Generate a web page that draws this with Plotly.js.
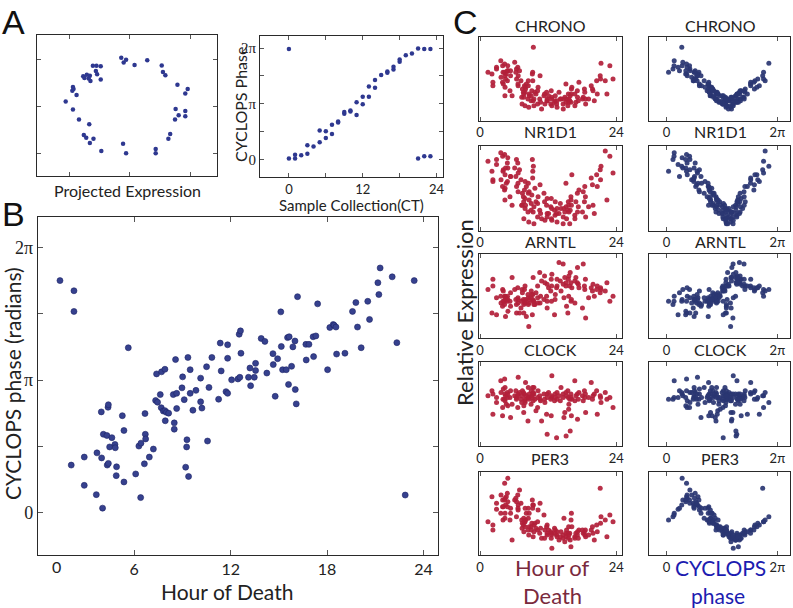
<!DOCTYPE html>
<html>
<head>
<meta charset="utf-8">
<script src="https://cdn.plot.ly/plotly-3.0.1.min.js"></script>
<style>
  body { margin: 0; background: #fff; }
  #plot { width: 793px; height: 608px; }
</style>
</head>
<body>
<div id="plot"></div>
<script>
// Panel A (left): projection of expression onto two eigengenes
var projX = [-0.14,-0.10,-0.06,0.08,0.29,0.53,0.55,0.59,0.79,0.96,
  0.92,0.76,0.81,0.92,0.92,0.75,0.67,0.64,0.43,0.43,
  -0.11,-0.06,-0.47,-0.66,-0.60,-0.72,-0.76,-0.67,-0.84,-0.94,
  -1.06,-0.88,-0.94,-0.93,-0.95,-0.77,-0.75,-0.71,-0.66,-0.68,
  -0.65,-0.61,-0.55,-0.48,-0.56,-0.54,-0.48];
var projY = [1.04,0.94,1.00,0.89,0.99,0.88,0.74,0.67,0.47,0.38,
  0.28,-0.05,-0.18,-0.09,-0.20,-0.27,-0.58,-0.68,-0.90,-0.99,
  -0.79,-0.99,-0.94,-0.77,-0.68,-0.66,-0.60,-0.37,-0.27,-0.06,
  0.11,0.25,0.42,0.38,0.34,0.65,0.61,0.68,0.66,0.60,
  0.55,0.87,0.87,0.86,0.76,0.69,0.58];

// Panel A (right): sample collection time vs CYCLOPS phase
var ctHour = [0,0,1,1,2,3,3,4,5,5,6,6,7,7,8,8,9,9,10,10,11,11,12,12,13,13,14,14,15,16,16,17,17,18,18,19,20,21,21,22,22,23,23];
var ctPhase = [6.23,0.04,0.04,0.26,0.23,0.32,0.79,0.73,0.96,1.63,1.20,1.58,1.43,1.95,2.08,2.14,2.57,2.67,2.70,2.76,2.51,3.23,3.12,3.54,3.54,4.11,4.05,4.48,4.76,4.89,4.97,5.08,5.23,5.51,5.65,5.89,5.98,6.27,0.04,6.24,0.17,6.24,0.17];

// Panel B / C: human samples, hour of death and CYCLOPS phase
var deathHour = [1.38,2.25,2.25,5.63,2.08,2.89,2.89,3.64,4.03,3.68,
  3.97,3.95,4.08,4.30,4.37,4.39,4.47,4.61,4.32,4.39,
  4.80,4.82,4.90,4.88,5.36,5.26,5.36,6.09,6.40,6.29,
  6.42,6.63,6.69,6.71,6.94,7.19,6.67,7.33,7.45,7.39,
  7.70,7.91,7.62,7.68,7.81,7.91,8.00,8.14,7.93,8.49,
  8.49,8.43,8.64,8.64,8.57,9.01,8.97,9.11,9.34,9.48,
  9.48,9.65,9.84,10.13,10.13,10.21,10.50,10.65,10.83,9.28,
  9.26,9.20,9.38,10.56,11.25,11.35,11.81,11.81,11.41,11.71,
  11.81,12.06,12.45,12.57,12.53,12.61,12.64,13.11,13.20,13.24,
  13.47,13.55,13.55,13.90,14.13,14.25,14.63,14.65,14.77,14.92,
  15.12,15.15,15.23,15.46,15.54,15.64,15.60,15.79,15.87,16.00,
  16.02,16.08,16.16,16.68,16.87,16.70,17.13,17.16,17.30,17.41,
  18.03,18.17,18.38,18.44,18.55,18.59,19.11,19.58,19.79,19.89,
  20.12,20.53,20.64,21.16,21.22,21.30,22.05,22.34,22.86,23.42];
var cyclopsPhase = [5.50,5.26,4.77,3.91,1.13,1.32,0.65,0.43,0.11,1.42,
  1.30,2.39,1.86,1.83,2.50,2.56,1.56,1.78,1.13,1.17,
  1.62,1.54,1.09,0.88,0.73,2.30,1.95,0.92,0.36,1.58,
  1.65,1.16,1.86,1.75,1.32,1.51,2.35,2.66,2.62,3.29,
  3.34,3.40,2.80,2.49,2.41,2.42,2.38,2.36,2.18,2.13,
  1.98,2.80,2.83,2.47,3.63,3.22,2.96,2.68,3.68,3.39,
  2.83,2.43,2.90,3.19,2.63,2.48,3.46,2.97,3.68,1.73,
  1.56,1.08,0.86,1.70,2.69,4.02,3.98,3.66,3.36,2.87,
  2.83,3.15,3.17,3.21,4.23,4.31,3.78,3.21,3.43,3.01,
  3.21,3.37,3.54,4.13,4.06,3.31,3.77,3.51,2.76,3.65,
  4.76,3.94,3.39,3.39,4.15,4.17,3.04,3.47,3.93,4.07,
  2.92,2.58,5.12,3.99,3.99,3.62,4.17,3.70,4.19,4.95,
  3.39,4.39,4.46,4.44,4.40,3.76,3.78,4.77,4.98,4.40,
  3.91,5.01,4.58,5.45,5.17,5.80,5.59,4.03,0.42,5.50];

// Panel C: relative expression per gene (same sample order)
var geneNames = ['CHRONO', 'NR1D1', 'ARNTL', 'CLOCK', 'PER3'];
var chrono = [.58,.42,.46,.30,.56,.62,.64,.72,.58,.52,
  .66,.46,.44,.58,.30,.40,.50,.56,.68,.54,
  .60,.48,.60,.66,.60,.36,.54,.70,.62,.58,
  .50,.64,.42,.54,.60,.48,.44,.28,.38,.20,
  .28,.18,.34,.32,.42,.34,.38,.44,.40,.48,
  .42,.26,.32,.30,.16,.30,.24,.36,.24,.18,
  .26,.34,.32,.20,.36,.40,.26,.22,.14,.48,
  .58,.56,.88,.54,.30,.32,.24,.26,.20,.34,
  .24,.30,.20,.26,.36,.28,.18,.22,.24,.30,
  .20,.16,.24,.34,.26,.26,.20,.14,.26,.28,
  .44,.22,.26,.18,.32,.26,.22,.24,.30,.22,
  .32,.38,.40,.32,.22,.18,.36,.28,.24,.46,
  .26,.28,.38,.34,.26,.20,.26,.42,.38,.36,
  .24,.48,.32,.54,.50,.69,.48,.32,.66,.50];
var nr1d1 = [.82,.58,.60,.30,.70,.84,.78,.92,.70,.60,
  .88,.52,.72,.48,.36,.50,.74,.56,.90,.66,
  .80,.58,.74,.86,.64,.40,.64,.74,.84,.64,
  .52,.80,.46,.68,.72,.60,.56,.30,.44,.30,
  .14,.26,.40,.34,.48,.38,.30,.52,.58,.44,
  .56,.22,.36,.46,.10,.32,.24,.42,.22,.08,
  .28,.50,.34,.16,.32,.40,.24,.20,.14,.70,
  .62,.84,.76,.54,.44,.34,.16,.20,.12,.30,
  .38,.20,.28,.14,.38,.26,.12,.24,.18,.34,
  .20,.10,.26,.20,.32,.26,.08,.16,.26,.22,
  .56,.28,.14,.24,.34,.22,.30,.08,.24,.40,
  .36,.30,.66,.18,.34,.14,.44,.22,.28,.48,
  .22,.46,.34,.52,.40,.16,.28,.62,.54,.30,
  .20,.66,.52,.72,.60,.76,.94,.36,.88,.68];
var arntl = [.58,.62,.70,.72,.30,.48,.28,.50,.44,.42,
  .58,.38,.56,.40,.50,.46,.26,.48,.44,.50,
  .44,.50,.32,.46,.54,.44,.38,.58,.40,.46,
  .30,.60,.42,.46,.30,.36,.48,.44,.54,.58,
  .30,.62,.46,.40,.58,.42,.46,.26,.44,.48,
  .40,.52,.42,.46,.14,.56,.48,.52,.72,.40,
  .44,.40,.54,.62,.48,.42,.78,.50,.68,.52,
  .46,.28,.44,.42,.46,.74,.64,.36,.66,.50,
  .44,.60,.56,.44,.70,.62,.76,.28,.46,.52,
  .60,.70,.62,.90,.68,.56,.88,.64,.48,.72,
  .62,.66,.38,.30,.70,.74,.50,.62,.78,.66,
  .44,.46,.60,.68,.72,.42,.66,.84,.64,.60,
  .36,.88,.62,.58,.70,.24,.48,.60,.56,.64,
  .50,.58,.62,.54,.60,.58,.56,.66,.44,.50];
var clock = [.60,.38,.62,.50,.66,.52,.58,.78,.56,.64,
  .46,.36,.68,.56,.62,.70,.60,.50,.80,.54,
  .64,.58,.48,.62,.66,.58,.34,.60,.56,.66,
  .58,.46,.62,.82,.64,.56,.60,.52,.66,.60,
  .48,.56,.64,.40,.62,.54,.76,.60,.52,.70,
  .58,.30,.62,.56,.58,.66,.50,.60,.54,.62,
  .70,.56,.42,.46,.58,.66,.60,.54,.30,.62,
  .70,.58,.64,.56,.62,.56,.14,.62,.52,.38,
  .58,.64,.56,.60,.36,.58,.84,.54,.62,.58,
  .10,.56,.64,.60,.54,.70,.62,.58,.34,.40,
  .64,.12,.60,.66,.58,.50,.44,.56,.18,.62,
  .58,.36,.56,.78,.60,.54,.62,.32,.56,.64,
  .60,.54,.66,.58,.62,.40,.58,.76,.56,.60,
  .62,.66,.38,.60,.58,.52,.64,.56,.58,.46];
var per3 = [.40,.36,.30,.18,.70,.62,.55,.50,.42,.72,
  .66,.58,.58,.66,.44,.50,.60,.70,.86,.68,
  .74,.58,.64,.92,.56,.42,.50,.66,.46,.68,
  .64,.72,.54,.60,.78,.62,.56,.42,.38,.32,
  .28,.34,.36,.44,.40,.40,.42,.50,.56,.44,
  .56,.30,.34,.50,.24,.30,.34,.38,.22,.28,
  .36,.38,.32,.30,.40,.54,.26,.32,.20,.60,
  .56,.66,.60,.62,.48,.20,.24,.26,.30,.34,
  .36,.30,.28,.24,.20,.26,.08,.32,.26,.30,
  .24,.28,.22,.18,.22,.28,.20,.24,.44,.16,
  .26,.22,.30,.26,.20,.24,.34,.26,.18,.10,
  .42,.50,.34,.22,.26,.20,.24,.28,.20,.30,
  .30,.26,.28,.24,.30,.22,.24,.30,.34,.26,
  .18,.36,.28,.80,.38,.46,.42,.22,.48,.40];
var geneValues = [chrono, nr1d1, arntl, clock, per3];

var W = 793, H = 608, PI = Math.PI;
function px(X) { return X / W; }
function py(Y) { return 1 - Y / H; }

var sans = 'Lato, "Open Sans", sans-serif';
var serif = '"Liberation Serif", "DejaVu Serif", serif';

function axis(d, range, extra) {
  var a = {
    domain: d, range: range, showline: true, mirror: 'ticks', linecolor: '#2a2a2a', linewidth: 1,
    ticks: 'inside', ticklen: 4, tickcolor: '#555', showgrid: false, zeroline: false,
    showticklabels: false, fixedrange: true
  };
  for (var k in extra) a[k] = extra[k];
  return a;
}

var blueDot = { size: 6, color: '#36418e', line: { color: '#1d2466', width: 0.6 } };
var smallDot = { size: 4.5, color: '#2e3890' };
var redDot = { size: 5, color: '#b2203a', opacity: 0.92 };
var navyDot = { size: 5, color: '#2a3672', opacity: 0.92 };

var data = [
  { x: projX, y: projY, xaxis: 'x', yaxis: 'y', type: 'scatter', mode: 'markers', marker: smallDot },
  { x: ctHour, y: ctPhase, xaxis: 'x2', yaxis: 'y2', type: 'scatter', mode: 'markers', marker: smallDot },
  { x: deathHour, y: cyclopsPhase, xaxis: 'x3', yaxis: 'y3', type: 'scatter', mode: 'markers', marker: blueDot }
];

var layout = {
  width: W, height: H, autosize: false, showlegend: false,
  margin: { l: 0, r: 0, t: 0, b: 0 },
  paper_bgcolor: '#fff', plot_bgcolor: '#fff',
  font: { family: sans, color: '#222' },
  xaxis: axis([px(37.3), px(216.7)], [-1.53, 1.44], { anchor: 'y', tickvals: [-1, 0, 1] }),
  yaxis: axis([py(176.3), py(35.3)], [-1.48, 1.52], { anchor: 'x', tickvals: [-1, 0, 1] }),
  xaxis2: axis([px(260), px(442.7)], [-4.7, 25], {
    anchor: 'y2', tickvals: [0, 6, 12, 18, 24], ticktext: ['0', '', '12', '', '24'],
    showticklabels: true, tickfont: { family: sans, size: 13, color: '#222' }
  }),
  yaxis2: axis([py(177), py(35.5)], [-1, 7], {
    anchor: 'x2', tickvals: [0, PI / 2, PI, 3 * PI / 2, 2 * PI], ticktext: ['0', '', 'π', '', '2π'],
    showticklabels: true, tickfont: { family: serif, size: 15, color: '#222' }
  }),
  xaxis3: axis([px(37.8), px(438)], [0, 24.9], {
    anchor: 'y3', tickvals: [6, 12, 18, 24], ticklen: 5,
    showticklabels: true, tickfont: { family: sans, size: 16, color: '#222' }
  }),
  yaxis3: axis([py(555), py(217.3)], [-1, 7], {
    anchor: 'x3', tickvals: [0, PI / 2, PI, 3 * PI / 2, 2 * PI], ticktext: ['0', '', 'π', '', '2π'], ticklen: 5,
    showticklabels: true, tickfont: { family: serif, size: 18, color: '#222' }
  }),
  annotations: []
};

function note(text, X, Y, size, opts) {
  var a = {
    text: text, x: px(X), y: py(Y), xref: 'paper', yref: 'paper',
    xanchor: 'center', yanchor: 'middle', showarrow: false,
    font: { family: sans, size: size, color: '#222' }
  };
  for (var k in opts) a[k] = opts[k];
  layout.annotations.push(a);
}

// Panel C grid
var rowTop = [37.3, 146, 254, 362.3, 471.7];
var rowBottom = [120.7, 230.5, 338.3, 446, 555];
var titleY = [25, 131.7, 241.7, 349.5, 458.3];
geneNames.forEach(function (g, i) {
  var nL = 4 + i, nR = 9 + i;
  var yd = [py(rowBottom[i]), py(rowTop[i])];
  layout['xaxis' + nL] = axis([px(479), px(622)], [-0.2, 25], {
    anchor: 'y' + nL, tickvals: [0, 24], showticklabels: true,
    tickfont: { family: sans, size: 13, color: '#222' }
  });
  layout['yaxis' + nL] = axis(yd, [0, 1], { anchor: 'x' + nL, ticks: '' });
  layout['xaxis' + nR] = axis([px(649), px(790)], [-1, 7], {
    anchor: 'y' + nR, tickvals: [0, 2 * PI], ticktext: ['0', '2π'], showticklabels: true,
    tickfont: { family: sans, size: 13, color: '#222' }
  });
  layout['yaxis' + nR] = axis(yd, [0, 1], { anchor: 'x' + nR, ticks: '' });
  data.push({ x: deathHour, y: geneValues[i], xaxis: 'x' + nL, yaxis: 'y' + nL, type: 'scatter', mode: 'markers', marker: redDot });
  data.push({ x: cyclopsPhase, y: geneValues[i], xaxis: 'x' + nR, yaxis: 'y' + nR, type: 'scatter', mode: 'markers', marker: navyDot });
  note(g, 550, titleY[i], 16);
  note(g, 720, titleY[i], 16);
});

// panel letters and titles
var letterFont = { family: '"Liberation Sans", Arial, sans-serif', size: 34, color: '#111' };
note('A', 13, 22, 34, { font: letterFont });
note('B', 13, 214, 34, { font: letterFont });
note('C', 465, 22, 34, { font: letterFont });
note('Projected Expression', 127, 190, 16);
note('Sample Collection(CT)', 351, 205, 15);
note('CYCLOPS Phase', 240, 105, 16, { textangle: -90 });
note('0', 56, 566, 16);
note('Hour of Death', 227, 591, 21);
note('CYCLOPS phase (radians)', 12, 384, 21, { textangle: -90 });
note('Relative Expression', 464, 312, 22, { textangle: -90 });
note('Hour of', 552, 567, 22, { font: { family: sans, size: 22, color: '#7a2a3d' } });
note('Death', 552, 595, 22, { font: { family: sans, size: 22, color: '#7a2a3d' } });
note('CYCLOPS', 720, 567, 21, { font: { family: sans, size: 21, color: '#1c1cb0' } });
note('phase', 718, 595, 21, { font: { family: sans, size: 21, color: '#1c1cb0' } });

Plotly.newPlot('plot', data, layout, { displayModeBar: false, staticPlot: true });
</script>
</body>
</html>
